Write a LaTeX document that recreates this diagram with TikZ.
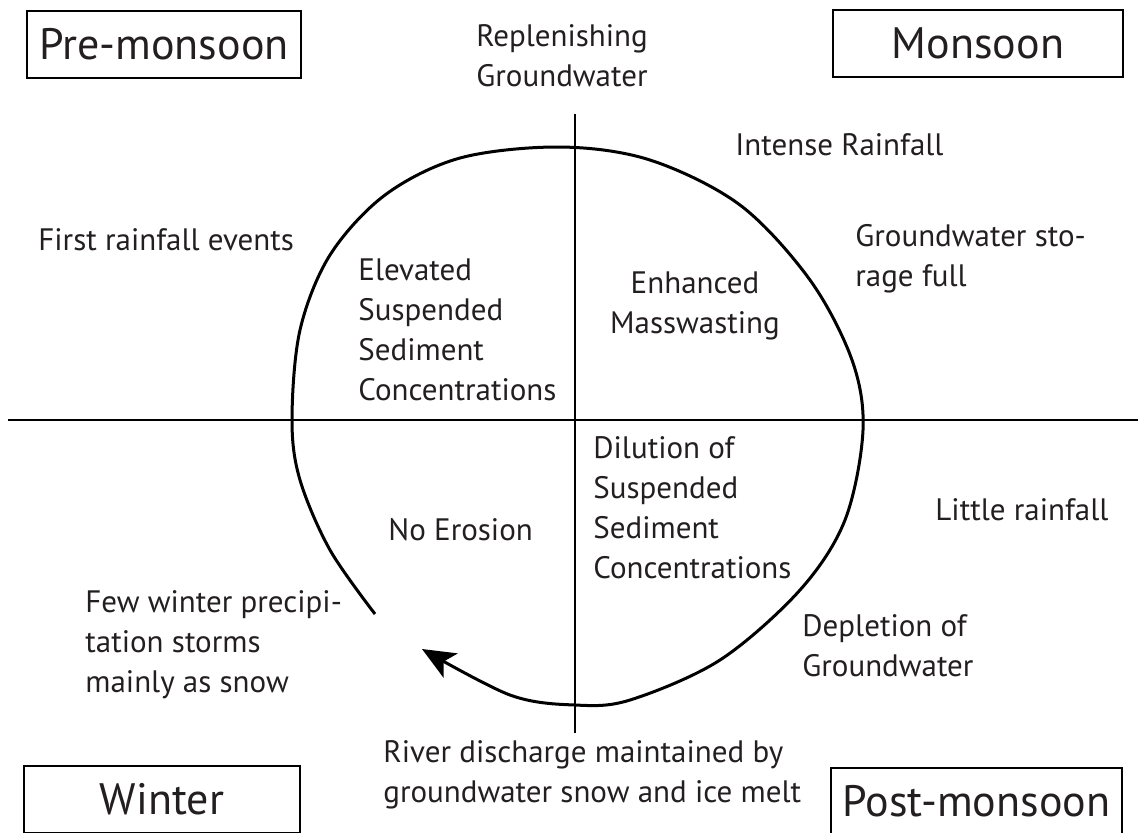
\documentclass[tikz,border=0pt]{standalone}
\usepackage{fontspec}
\setmainfont{PT Sans}
\usetikzlibrary{arrows.meta, positioning}
\definecolor{INK}{RGB}{35,31,32}

\begin{document}
\begin{tikzpicture}[
  x=0.5pt, y=-0.5pt,
  season/.style={draw, line width=0.8pt, minimum height=33.5pt, inner sep=0pt,
                 font=\fontsize{22}{26}\selectfont, text=INK},
  lbl/.style={inner sep=0pt, align=left, anchor=west, text=INK,
              font=\fontsize{15.5}{20}\selectfont},
  axis/.style={line width=0.7pt},
  cycle/.style={line width=1.5pt, -{Stealth[length=16.5pt, width=14pt, inset=4pt]}}
]
\useasboundingbox (0,0) rectangle (1138,832);

% season boxes
\node[season, minimum width=137pt] (pre)  at (164,44.5)   {Pre-monsoon};
\node[season, minimum width=145pt] (mon)  at (978,43.5)   {Monsoon};
\node[season, minimum width=138pt] (win)  at (162,799.5)  {Winter};
\node[season, minimum width=145.5pt] (post) at (976.5,801.5) {Post-monsoon};

% axes
\coordinate (xl) at (8,420);
\coordinate (xr) at (1138,420);
\coordinate (yt) at (575,114);
\coordinate (yb) at (575,733);
\draw[axis] (xl) -- (xr);
\draw[axis] (yt) -- (yb);

% labels
\node[lbl, align=center, anchor=center] (recharge) at (562,56) {Replenishing\\Groundwater};
\node[lbl] (intense)    at (735,145) {Intense Rainfall};
\node[lbl] (firstrain)  at (38,240)  {First rainfall events};
\node[lbl] (gwfull)     at (855,259) {Groundwater sto-\\rage full};
\node[lbl] (elevated)   at (358,330) {Elevated\\Suspended\\Sediment\\Concentrations};
\node[lbl, align=center, anchor=center] (masswaste) at (695,306) {Enhanced\\Masswasting};
\node[lbl] (dilution)   at (593,508) {Dilution of\\Suspended\\Sediment\\Concentrations};
\node[lbl] (noerosion)  at (388,530) {No Erosion};
\node[lbl] (littlerain) at (935,510) {Little rainfall};
\node[lbl] (fewstorms)  at (85,645)  {Few winter precipi-\\tation storms\\mainly as snow};
\node[lbl] (depletion)  at (802,646) {Depletion of\\Groundwater};
\node[lbl] (discharge)  at (383,775) {River discharge maintained by\\groundwater snow and ice melt};

% seasonal cycle
\draw[cycle] plot[smooth, tension=0.55] coordinates {
  (375,614) (330,550) (300,480) (292,420) (300,330) (330,255) (385,195)
  (460,158) (560,147) (650,160) (740,205) (810,280) (852,360) (863,430)
  (845,520) (800,590) (720,660) (630,700) (575,705) (510,695) (422,649)};
\end{tikzpicture}
\end{document}
